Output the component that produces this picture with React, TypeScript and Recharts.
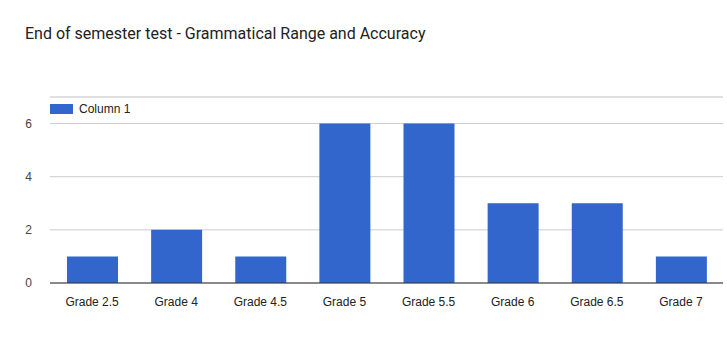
import React from 'react';
import { BarChart, Bar, XAxis, YAxis, CartesianGrid } from 'recharts';

const grades = ['Grade 2.5', 'Grade 4', 'Grade 4.5', 'Grade 5', 'Grade 5.5', 'Grade 6', 'Grade 6.5', 'Grade 7'];
const column1 = [1, 2, 1, 6, 6, 3, 3, 1];
const majorTicks = [0, 2, 4, 6];
const minorTicks = [1, 3, 5, 7];

const data = grades.map((g, i) => ({ grade: g, value: column1[i] }));

const titleFont = 'Roboto, Arial, sans-serif';
const font = '"Liberation Sans", Arial, sans-serif';

const App: React.FC = () => {
    return (
        <div style={{ position: 'absolute', left: 0, top: 0, width: 727, height: 356, background: '#fff' }}>
            <div
                style={{
                    position: 'absolute',
                    left: 25,
                    top: 24,
                    fontFamily: titleFont,
                    fontSize: 16,
                    color: '#222',
                    whiteSpace: 'nowrap'
                }}
            >
                End of semester test - Grammatical Range and Accuracy
            </div>
            <BarChart
                width={727}
                height={356}
                data={data}
                margin={{ top: 97, right: 4, left: 0, bottom: 0 }}
                barSize={51}
            >
                <CartesianGrid yAxisId="minor" vertical={false} stroke="#ebebeb" />
                <CartesianGrid yAxisId="major" vertical={false} stroke="#cccccc" />
                <XAxis
                    dataKey="grade"
                    axisLine={{ stroke: '#333', strokeWidth: 1 }}
                    tickLine={false}
                    tickMargin={8}
                    height={73}
                    interval={0}
                    tick={{ fill: '#222', fontSize: 12, fontFamily: font }}
                />
                <YAxis
                    yAxisId="minor"
                    domain={[0, 7]}
                    ticks={minorTicks}
                    hide
                />
                <YAxis
                    yAxisId="major"
                    domain={[0, 7]}
                    ticks={majorTicks}
                    axisLine={false}
                    tickLine={false}
                    tickMargin={12}
                    width={50}
                    tick={{ fill: '#444', fontSize: 12, fontFamily: font }}
                />
                <Bar yAxisId="major" dataKey="value" name="Column 1" fill="#3366cc" isAnimationActive={false} />
            </BarChart>
            <div
                style={{
                    position: 'absolute',
                    left: 50,
                    top: 102,
                    display: 'flex',
                    alignItems: 'center',
                    fontFamily: font,
                    fontSize: 12,
                    color: '#222'
                }}
            >
                <span style={{ width: 23, height: 10, background: '#3366cc', display: 'inline-block', marginRight: 6 }} />
                Column 1
            </div>
        </div>
    );
};

export default App;
